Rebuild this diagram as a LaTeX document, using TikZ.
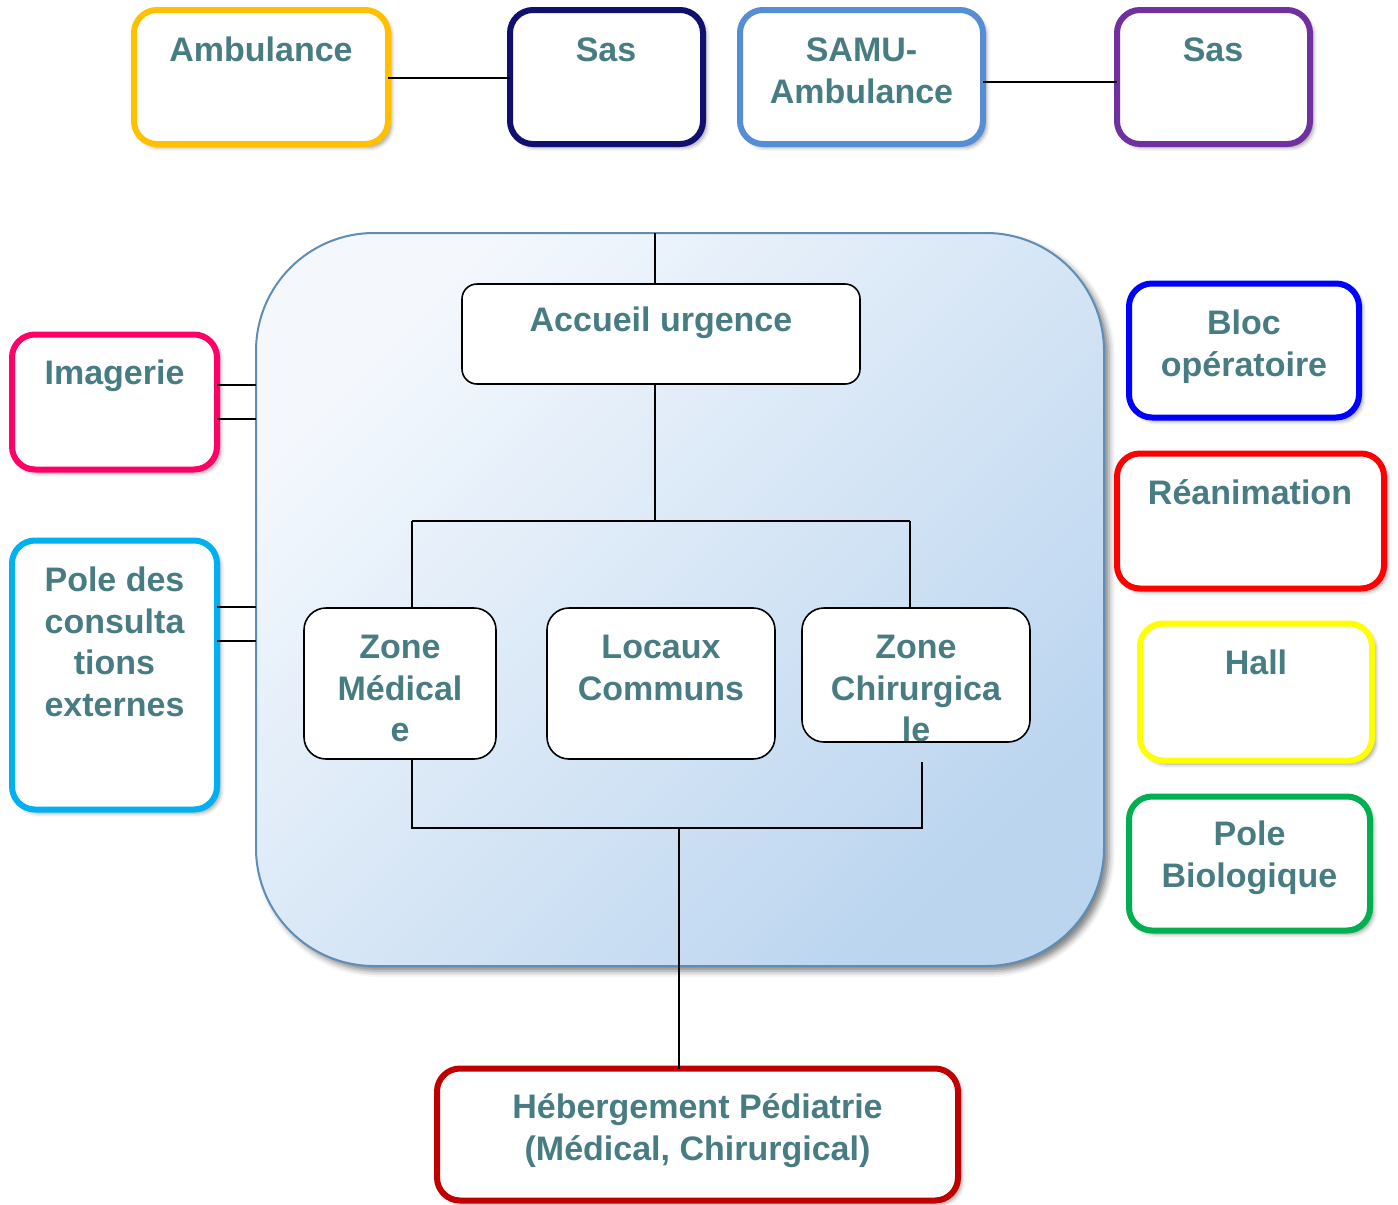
\documentclass[tikz,border=0pt]{standalone}
\usepackage{fontspec}
\setmainfont{Liberation Sans}
\usetikzlibrary{shadows.blur}

\definecolor{txt}{RGB}{72,124,131}
\definecolor{cAmb}{HTML}{FFC000}
\definecolor{cSasA}{HTML}{10106E}
\definecolor{cSamu}{HTML}{558ED5}
\definecolor{cSasB}{HTML}{7030A0}
\definecolor{cImg}{HTML}{FF0066}
\definecolor{cCons}{HTML}{00B0F0}
\definecolor{cBloc}{HTML}{0000FF}
\definecolor{cRea}{HTML}{FF0000}
\definecolor{cHall}{HTML}{FFFF00}
\definecolor{cBio}{HTML}{00B050}
\definecolor{cHeb}{HTML}{C00000}
\definecolor{zoneLight}{HTML}{F4F8FD}
\definecolor{zoneDark}{HTML}{BBD5EF}
\definecolor{zoneEdge}{HTML}{5E8DB6}

\tikzset{
  softshadow/.style={blur shadow={shadow xshift=3.5pt, shadow yshift=-3.5pt,
      shadow blur radius=4pt, shadow opacity=40}},
  unit/.style={draw=#1, line width=6pt, rounded corners=23pt, fill=white,
      outer sep=0pt, inner sep=0pt, softshadow},
  inner/.style={draw=black, line width=1.6pt, rounded corners=22pt, fill=white,
      outer sep=0pt, inner sep=0pt},
  lbl/.style={font=\fontsize{34pt}{41.6pt}\selectfont\bfseries, text=txt,
      align=center, inner sep=0pt, outer sep=0pt, anchor=north},
  conn/.style={draw=black, line width=2.2pt},
}

\begin{document}
\begin{tikzpicture}[x=1pt, y=-1pt]
\useasboundingbox (0,0) rectangle (1398,1205);

% emergency department enclosure
\node[draw=zoneEdge, line width=2pt, rounded corners=118pt, outer sep=0pt,
      minimum width=848pt, minimum height=733pt,
      top color=zoneLight, bottom color=zoneDark, shading angle=45,
      blur shadow={shadow xshift=5pt, shadow yshift=-5pt, shadow blur radius=6pt, shadow opacity=50}]
  (zone) at (680,599.5) {};

% top row: arrivals
\node[unit=cAmb,  minimum width=254pt, minimum height=134pt] (amb)  at (261,77) {};
\node[unit=cSasA, minimum width=193pt, minimum height=134pt] (sasA) at (606.5,77) {};
\node[unit=cSamu, minimum width=243pt, minimum height=134pt] (samu) at (861.5,77) {};
\node[unit=cSasB, minimum width=193pt, minimum height=134pt] (sasB) at (1213.5,77) {};

% left column
\node[unit=cImg,  minimum width=205pt, minimum height=135pt] (img)  at (114.5,402) {};
\node[unit=cCons, minimum width=205pt, minimum height=269pt] (cons) at (114.5,675) {};

% right column
\node[unit=cBloc, minimum width=230pt, minimum height=134pt] (bloc) at (1244,350.5) {};
\node[unit=cRea,  minimum width=267pt, minimum height=135pt] (rea)  at (1250.5,521) {};
\node[unit=cHall, minimum width=232pt, minimum height=137pt] (hall) at (1256,692) {};
\node[unit=cBio,  minimum width=241pt, minimum height=134pt] (bio)  at (1249.5,863.5) {};

% bottom: paediatric wards
\node[unit=cHeb,  minimum width=521pt, minimum height=132pt] (heb)  at (697.5,1134.5) {};

% inside the enclosure
\node[inner, rounded corners=15pt, minimum width=398pt, minimum height=100pt] (acc) at (661,334) {};
\node[inner, minimum width=192pt, minimum height=151pt] (zmed) at (400,683.5) {};
\node[inner, minimum width=228pt, minimum height=151pt] (loc)  at (661,683.5) {};
\node[inner, minimum width=228pt, minimum height=134pt] (zchi) at (916,675) {};

% labels (first baseline sits about 50pt below each box top)
\node[lbl] (amb-t)  at (261,32.4)    {\strut Ambulance};
\node[lbl] (sasA-t) at (606,32.4)    {\strut Sas};
\node[lbl] (samu-t) at (861.5,32.4)  {\strut SAMU-\\Ambulance};
\node[lbl] (sasB-t) at (1213,32.4)   {\strut Sas};
\node[lbl] (img-t)  at (114.5,355.4) {\strut Imagerie};
\node[lbl] (cons-t) at (114.5,562.4) {\strut Pole des\\consulta\\tions\\externes};
\node[lbl] (bloc-t) at (1244,305.4)  {\strut Bloc\\opératoire};
\node[lbl] (rea-t)  at (1250,475.4)  {\strut Réanimation};
\node[lbl] (hall-t) at (1256,645.4)  {\strut Hall};
\node[lbl] (bio-t)  at (1249.5,816.4){\strut Pole\\Biologique};
\node[lbl] (heb-t)  at (697.5,1089.4){\strut Hébergement Pédiatrie\\(Médical, Chirurgical)};
\node[lbl] (acc-t)  at (661,302.4)   {\strut Accueil urgence};
\node[lbl] (zmed-t) at (400,629.4)   {\strut Zone\\Médical\\e};
\node[lbl] (loc-t)  at (661,629.4)   {\strut Locaux\\Communs};
\node[lbl] (zchi-t) at (916,629.4)   {\strut Zone\\Chirurgica\\le};

% junction points of the internal tree
\coordinate (jTop)   at (655,521);
\coordinate (jLeft)  at (412,521);
\coordinate (jRight) at (910,521);
\coordinate (jBL)    at (412,828);
\coordinate (jBR)    at (922,828);
\coordinate (jBM)    at (679,828);
\coordinate (zchiEnd) at (922,762);

% connectors between arrivals
\draw[conn] (amb.east |- 0,78) -- (sasA.west |- 0,78);
\draw[conn] (samu.east |- 0,82) -- (sasB.west |- 0,82);

% left side links into the enclosure
\draw[conn] (img.east |- 0,385)  -- (zone.west |- 0,385);
\draw[conn] (img.east |- 0,419)  -- (zone.west |- 0,419);
\draw[conn] (cons.east |- 0,607) -- (zone.west |- 0,607);
\draw[conn] (cons.east |- 0,641) -- (zone.west |- 0,641);

% entry into reception
\draw[conn] (acc.north -| jTop) -- (zone.north -| jTop);

% reception to the zones
\draw[conn] (acc.south -| jTop) -- (jTop);
\draw[conn] (jLeft) -- (jRight);
\draw[conn] (jLeft) -- (zmed.north -| jLeft);
\draw[conn] (jRight) -- (zchi.north -| jRight);

% zones to the wards
\draw[conn] (zmed.south -| jBL) -- (jBL) -- (jBR) -- (zchiEnd);
\draw[conn] (jBM) -- (heb.north -| jBM);
\end{tikzpicture}
\end{document}
